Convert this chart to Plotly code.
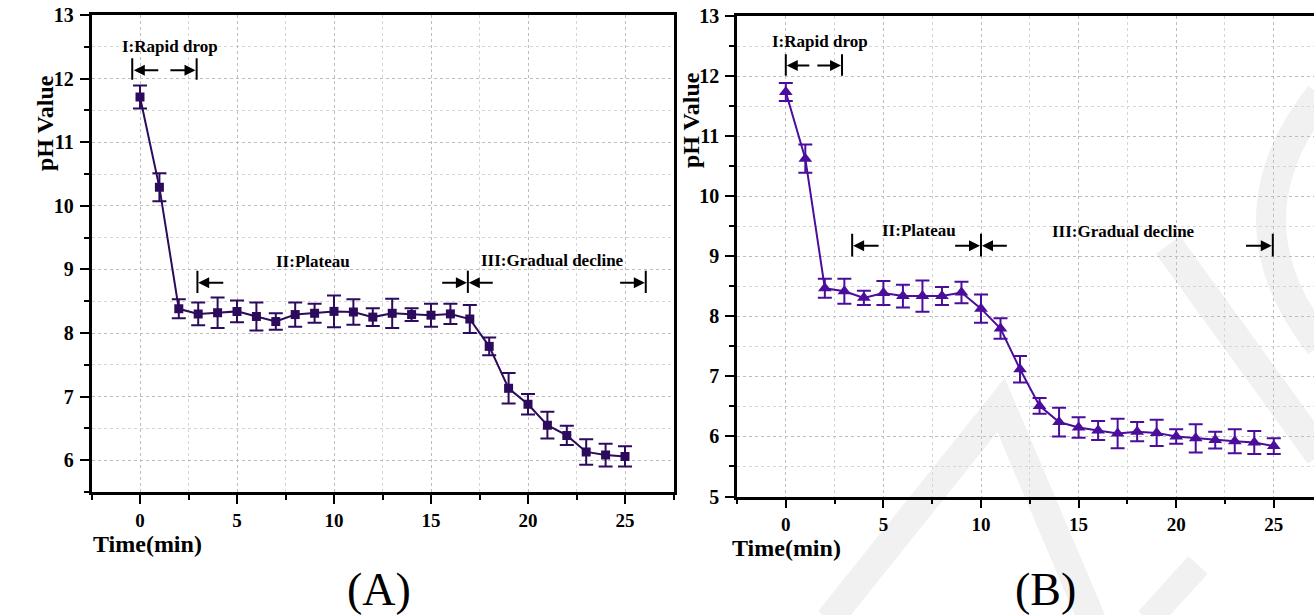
import plotly.graph_objects as go

# ---------------- data ----------------
time_min = list(range(26))

ph_a = [11.71, 10.29, 8.38, 8.30, 8.32, 8.34, 8.26, 8.18, 8.29, 8.31, 8.34, 8.33, 8.25,
        8.31, 8.29, 8.28, 8.30, 8.22, 7.79, 7.13, 6.88, 6.55, 6.39, 6.13, 6.08, 6.06]
err_a = [0.18, 0.22, 0.15, 0.18, 0.24, 0.17, 0.22, 0.13, 0.19, 0.15, 0.25, 0.20, 0.14,
         0.23, 0.10, 0.18, 0.16, 0.22, 0.14, 0.24, 0.16, 0.21, 0.15, 0.20, 0.18, 0.16]

ph_b = [11.74, 10.63, 8.47, 8.42, 8.31, 8.39, 8.34, 8.34, 8.34, 8.40, 8.13, 7.80, 7.12,
        6.51, 6.24, 6.15, 6.10, 6.05, 6.08, 6.06, 6.00, 5.97, 5.94, 5.92, 5.90, 5.84]
err_b = [0.15, 0.235, 0.16, 0.21, 0.12, 0.20, 0.19, 0.26, 0.15, 0.18, 0.235, 0.17, 0.22,
         0.13, 0.24, 0.17, 0.16, 0.245, 0.16, 0.22, 0.12, 0.235, 0.14, 0.20, 0.19, 0.13]

x_ticks = [0, 5, 10, 15, 20, 25]
y_ticks_a = [6, 7, 8, 9, 10, 11, 12, 13]
y_ticks_b = [5, 6, 7, 8, 9, 10, 11, 12, 13]

phase_labels = ["I:Rapid drop", "II:Plateau", "III:Gradual decline"]

# ---------------- styling ----------------
W, H = 1314, 615
FONT = "Liberation Serif"
COL_A = "#2c0b5c"
COL_B = "#4a0d9c"
GRID = "#bdbdbd"
GRID_MINOR = "#d6d6d6"


def px2paper(x, y):
    return x / W, 1 - y / H


fig = go.Figure()

fig.add_trace(go.Scatter(
    x=time_min, y=ph_a, mode="lines+markers",
    line=dict(color=COL_A, width=2),
    marker=dict(symbol="square", size=9, color=COL_A),
    error_y=dict(type="data", array=err_a, visible=True, color=COL_A, thickness=2, width=7),
    xaxis="x", yaxis="y", showlegend=False,
))
fig.add_trace(go.Scatter(
    x=time_min, y=ph_b, mode="lines+markers",
    line=dict(color=COL_B, width=2),
    marker=dict(symbol="triangle-up", size=12, color=COL_B),
    error_y=dict(type="data", array=err_b, visible=True, color=COL_B, thickness=2, width=7),
    xaxis="x2", yaxis="y2", showlegend=False,
))

tickfont = dict(family=FONT, size=19, color="black")


def xaxis_cfg(domain, rng):
    return dict(
        domain=domain, range=rng, tickmode="array", tickvals=x_ticks,
        ticktext=["<b>%s</b>" % v for v in x_ticks], automargin=False,
        showline=True, linecolor="black", linewidth=2.5, mirror=True,
        ticks="outside", ticklen=9, tickwidth=2, tickcolor="black",
        tickfont=tickfont, ticklabelstandoff=0,
        showgrid=True, gridcolor=GRID, gridwidth=1, griddash="dot",
        zeroline=False,
        minor=dict(dtick=2.5, tick0=0, ticks="outside", ticklen=5, tickwidth=2,
                   tickcolor="black", showgrid=True, gridcolor=GRID_MINOR,
                   gridwidth=1, griddash="dot"),
    )


def yaxis_cfg(domain, rng, ticks, anchor, mirror):
    return dict(
        domain=domain, range=rng, anchor=anchor, tickmode="array", tickvals=ticks,
        ticktext=["<b>%s</b>" % v for v in ticks], automargin=False,
        showline=True, linecolor="black", linewidth=2.5, mirror=mirror,
        ticks="outside", ticklen=9, tickwidth=2, tickcolor="black",
        tickfont=dict(family=FONT, size=20, color="black"), ticklabelstandoff=2,
        showgrid=True, gridcolor=GRID, gridwidth=1, griddash="dot",
        zeroline=False,
        minor=dict(dtick=0.5, tick0=0, ticks="outside", ticklen=5, tickwidth=2,
                   tickcolor="black", showgrid=True, gridcolor=GRID_MINOR,
                   gridwidth=1, griddash="dot"),
    )


xa0, ya1 = px2paper(91.5, 15)
xa1, ya0 = px2paper(673.5, 492)
xb0, yb1 = px2paper(737, 16.4)
_, yb0 = px2paper(0, 496.5)

fig.update_layout(
    width=W, height=H,
    margin=dict(l=0, r=0, t=0, b=0, autoexpand=False),
    paper_bgcolor="white", plot_bgcolor="rgba(0,0,0,0)",
    xaxis=xaxis_cfg([xa0, xa1], [-2.5, 27.5]) | dict(anchor="y"),
    yaxis=yaxis_cfg([ya0, ya1], [5.5, 13], y_ticks_a, "x", True),
    xaxis2=xaxis_cfg([xb0, 1.0], [-2.5, 27.06]) | dict(anchor="y2"),
    yaxis2=yaxis_cfg([yb0, yb1], [5, 13], y_ticks_b, "x2", False),
)

annotations = []
shapes = []

# ---- axis titles / panel labels (as text) ----
for (xp, yp, txt, ang, size, bold) in [
    (45, 123, "pH Value", -90, 24, True),
    (691, 120, "pH Value", -90, 24, True),
    (147, 544, "Time(min)", 0, 24, True),
    (786, 548, "Time(min)", 0, 24, True),
    (379, 589, "(A)", 0, 46, False),
    (1045, 589, "(B)", 0, 46, False),
]:
    px_, py_ = px2paper(xp, yp)
    annotations.append(dict(
        x=px_, y=py_, xref="paper", yref="paper",
        text=("<b>%s</b>" % txt) if bold else txt, showarrow=False,
        textangle=ang, xanchor="center", yanchor="middle",
        font=dict(family=FONT, size=size, color="black"),
    ))

labfont = dict(family=FONT, size=17, color="black")


def add_label(xr, yr, x, y, txt):
    annotations.append(dict(x=x, y=y, xref=xr, yref=yr, text="<b>%s</b>" % txt,
                            showarrow=False, xanchor="center", yanchor="middle",
                            font=labfont))


def add_bar(xr, yr, x, y0, y1):
    shapes.append(dict(type="line", xref=xr, yref=yr, x0=x, x1=x, y0=y0, y1=y1,
                       line=dict(color="black", width=2)))


def add_arrow(xr, yr, x_tail, x_head, y):
    annotations.append(dict(x=x_head, y=y, ax=x_tail, ay=y, xref=xr, yref=yr,
                            axref=xr, ayref=yr, text="", showarrow=True,
                            arrowhead=2, arrowsize=1.1, arrowwidth=2,
                            arrowcolor="black", standoff=0, startstandoff=0))


# Panel A phase markers
add_label("x", "y", 1.56, 12.50, phase_labels[0])
add_bar("x", "y", -0.4, 11.98, 12.32)
add_bar("x", "y", 2.92, 11.98, 12.32)
add_arrow("x", "y", 1.02, -0.32, 12.13)
add_arrow("x", "y", 1.49, 2.86, 12.13)

add_label("x", "y", 8.93, 9.12, phase_labels[1])
add_bar("x", "y", 2.96, 8.63, 8.98)
add_arrow("x", "y", 4.37, 3.0, 8.79)
add_bar("x", "y", 16.9, 8.63, 8.98)
add_arrow("x", "y", 15.5, 16.85, 8.79)
add_arrow("x", "y", 18.26, 16.95, 8.79)

add_label("x", "y", 21.25, 9.14, phase_labels[2])
add_bar("x", "y", 26.07, 8.63, 8.98)
add_arrow("x", "y", 24.67, 26.02, 8.79)

# Panel B phase markers
add_label("x2", "y2", 1.73, 12.59, phase_labels[0])
add_bar("x2", "y2", 0.0, 12.01, 12.37)
add_bar("x2", "y2", 2.88, 12.01, 12.37)
add_arrow("x2", "y2", 1.28, 0.05, 12.18)
add_arrow("x2", "y2", 1.54, 2.83, 12.18)

add_label("x2", "y2", 6.8, 9.43, phase_labels[1])
add_bar("x2", "y2", 3.4, 9.0, 9.38)
add_arrow("x2", "y2", 4.83, 3.45, 9.18)
add_bar("x2", "y2", 10.0, 9.0, 9.38)
add_arrow("x2", "y2", 8.6, 9.95, 9.18)
add_arrow("x2", "y2", 11.4, 10.05, 9.18)

add_label("x2", "y2", 17.3, 9.41, phase_labels[2])
add_bar("x2", "y2", 24.95, 9.0, 9.38)
add_arrow("x2", "y2", 23.5, 24.9, 9.18)

# ---- faint watermark strokes (right panel background) ----
WM = "#f1f1f1"


def wm_path(points, width, curve=False):
    pts = [px2paper(x, y) for x, y in points]
    if curve:
        d = "M {},{} Q {},{} {},{}".format(pts[0][0], pts[0][1], pts[1][0], pts[1][1],
                                           pts[2][0], pts[2][1])
    else:
        d = "M " + " L ".join("{},{}".format(a, b) for a, b in pts)
    shapes.append(dict(type="path", path=d, xref="paper", yref="paper",
                       line=dict(color=WM, width=width), layer="below"))


wm_path([(829, 620), (1001, 405), (1092, 620)], 28)
wm_path([(1148, 620), (1198, 565)], 26)
wm_path([(1168, 245), (1320, 455)], 30)
wm_path([(1320, 95), (1222, 220), (1320, 345)], 30, curve=True)

fig.update_layout(annotations=annotations, shapes=shapes)

fig.write_html(
    "out.html",
    config={"displayModeBar": False},
    post_script="document.body.style.margin='0';document.body.style.padding='0';"
                "document.body.style.overflow='hidden';",
)
